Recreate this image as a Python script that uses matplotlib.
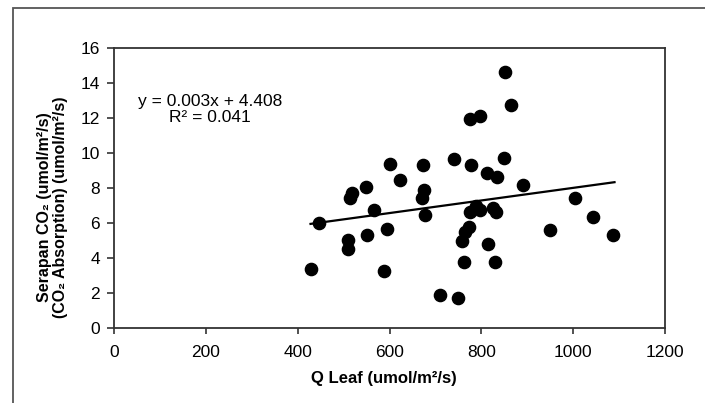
# Scatter of CO2 absorption vs Q leaf with linear trend line
import matplotlib.pyplot as plt
from matplotlib.patches import Rectangle
import numpy as np

# Data
q_leaf = [428, 447, 510, 510, 513, 519, 549, 552, 567, 594, 589, 600, 623,
          672, 671, 676, 677, 710, 741, 749, 758, 762, 764, 773, 776, 797,
          777, 776, 788, 798, 813, 815, 826, 832, 830, 834, 851, 849, 864,
          891, 949, 1004, 1044, 1086]
co2_abs = [3.4, 6.0, 5.05, 4.5, 7.4, 7.72, 8.05, 5.3, 6.74, 5.66, 3.24, 9.37,
           8.46, 9.33, 7.43, 7.89, 6.44, 1.9, 9.64, 1.72, 4.99, 3.76, 5.5,
           5.78, 11.96, 12.1, 9.31, 6.62, 6.95, 6.75, 8.88, 4.8, 6.86, 6.6,
           3.76, 8.62, 14.6, 9.7, 12.74, 8.18, 5.6, 7.44, 6.37, 5.33]

# Trend line as drawn in the picture
trend_slope = 0.0036
trend_intercept = 4.408
trend_x = [428, 1090]

equation_text = "y = 0.003x + 4.408\nR\u00b2 = 0.041"
x_ticks = [0, 200, 400, 600, 800, 1000, 1200]
y_ticks = [0, 2, 4, 6, 8, 10, 12, 14, 16]

plt.rcParams['font.family'] = ['Liberation Sans', 'DejaVu Sans']

fig = plt.figure(figsize=(7.05, 4.03), dpi=100)
ax = fig.add_axes([0.1617, 0.1861, 0.7816, 0.6948])

# Outer frame of the chart area (only left and top edges visible)
fig.patches.append(Rectangle((13 / 705, -0.2), 1.2, 1 - 8 / 403 + 0.2,
                             transform=fig.transFigure, fill=False,
                             edgecolor='#555555', linewidth=1.3))

# Points
ax.plot(q_leaf, co2_abs, 'o', color='black', markersize=8.8, linestyle='none')

# Trend line
tx = np.array(trend_x)
ax.plot(tx, trend_slope * tx + trend_intercept, color='black', linewidth=1.6)

ax.text(209, 12.5, equation_text, ha='center', va='center',
        multialignment='center', fontsize=12.5, linespacing=1.05)

ax.set_xlim(0, 1200)
ax.set_ylim(0, 16)
ax.set_xticks(x_ticks)
ax.set_yticks(y_ticks)
ax.tick_params(axis='both', labelsize=12.5, color='#333333', width=1.2)
ax.tick_params(axis='y', length=5, pad=5)
ax.tick_params(axis='x', length=4, pad=8)

for spine in ax.spines.values():
    spine.set_color('#333333')
    spine.set_linewidth(1.3)

ax.set_xlabel("Q Leaf (umol/m\u00b2/s)", fontsize=12, fontweight='bold')
ax.set_ylabel("Serapan CO\u2082 (umol/m\u00b2/s)\n(CO\u2082 Absorption) (umol/m\u00b2/s)",
              fontsize=11.5, fontweight='bold', linespacing=1.1)
ax.yaxis.set_label_coords(-0.083, 0.43)
ax.xaxis.set_label_coords(0.49, -0.155)

fig.savefig("out.png", dpi=100)
